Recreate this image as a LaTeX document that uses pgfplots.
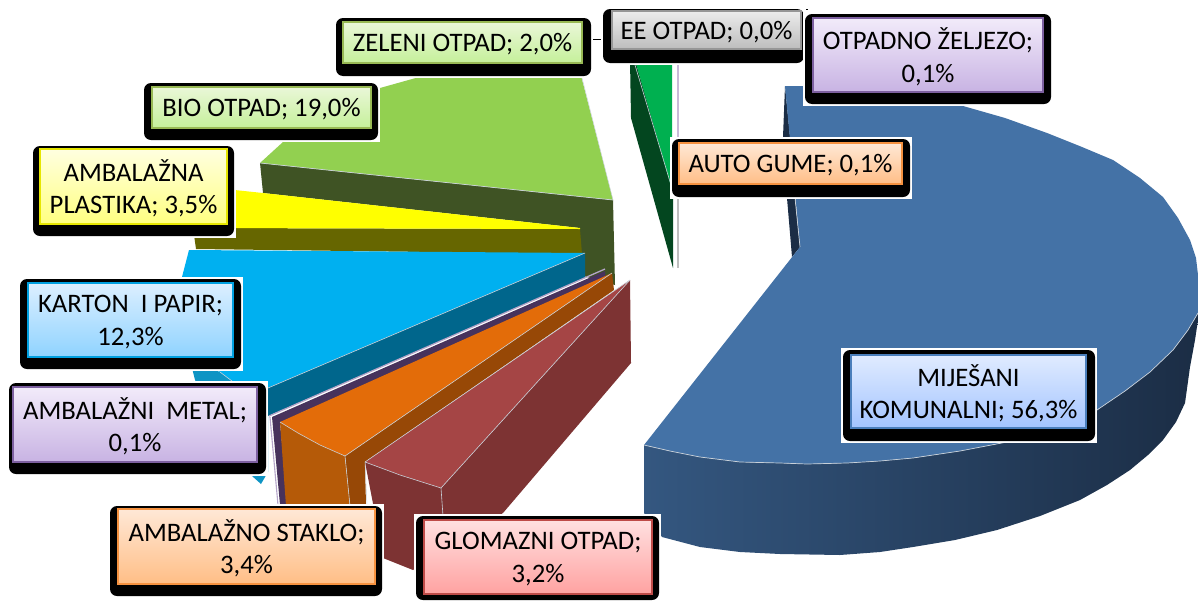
\documentclass[border=0pt]{standalone}
\usepackage{pgfplots}
\pgfplotsset{compat=1.18}
\usepackage{fontspec}
\setmainfont{Carlito}
\definecolor{bltop}{HTML}{4472A6}
\definecolor{blA}{HTML}{345780}
\definecolor{blB}{HTML}{1D3049}
\definecolor{blC}{HTML}{1B2D45}
\definecolor{edge}{HTML}{C8D0D8}
\definecolor{gtop}{HTML}{00B050}
\definecolor{gside}{HTML}{03461F}
\definecolor{biotop}{HTML}{92D050}
\definecolor{bioside}{HTML}{3F5324}
\definecolor{ytop}{HTML}{FFFF00}
\definecolor{yside}{HTML}{666600}
\definecolor{ktop}{HTML}{00B0F0}
\definecolor{kouter}{HTML}{0E94C4}
\definecolor{kside}{HTML}{00668C}
\definecolor{pside}{HTML}{47325C}
\definecolor{pedge}{HTML}{B4A4C8}
\definecolor{otop}{HTML}{E36C09}
\definecolor{oleft}{HTML}{B55A08}
\definecolor{oright}{HTML}{974806}
\definecolor{mtop}{HTML}{A54545}
\definecolor{mside}{HTML}{7D3333}
\tikzset{
  lb/.style n args={3}{top color=#1,bottom color=#2,draw=#3},
}
\definecolor{a1}{HTML}{E0EBFF}\definecolor{a2}{HTML}{A3C4FF}\definecolor{a3}{HTML}{4A7EBB}
\definecolor{b1}{HTML}{F2EBFA}\definecolor{b2}{HTML}{C8B3E3}\definecolor{b3}{HTML}{7D60A0}
\definecolor{c1}{HTML}{FFE8D6}\definecolor{c2}{HTML}{FFBE86}\definecolor{c3}{HTML}{F69240}
\definecolor{d1}{HTML}{FFE0E0}\definecolor{d2}{HTML}{FFA2A1}\definecolor{d3}{HTML}{BE4B48}
\definecolor{e1}{HTML}{EAF7D8}\definecolor{e2}{HTML}{C5F09A}\definecolor{e3}{HTML}{98B954}
\definecolor{f1}{HTML}{FFFFE0}\definecolor{f2}{HTML}{FFFF80}\definecolor{f3}{HTML}{E6E600}
\definecolor{g1}{HTML}{DCEFFF}\definecolor{g2}{HTML}{8FD3FF}\definecolor{g3}{HTML}{00A0E0}
\definecolor{h1}{HTML}{ECECEC}\definecolor{h2}{HTML}{BDBDBD}\definecolor{h3}{HTML}{969696}
\newcommand\labouter[4]{%
  \draw[white,fill=white,line width=4pt] (axis cs:#1,#2) rectangle (axis cs:#3,#4);
  \fill[black,rounded corners=7pt] (axis cs:#1,#2) rectangle (axis cs:#3,#4);}
\newcommand\labinner[6]{%
  \path[#5,line width=1.4pt] (axis cs:#1,#2) rectangle (axis cs:#3,#4);
  \path (axis cs:#1,#2) rectangle (axis cs:#3,#4) node[midway,yshift=-2pt,align=center,inner sep=0pt,text=black,font=\fontsize{26.7}{32.5}\selectfont]{#6};}
\begin{document}
\begin{tikzpicture}
\begin{axis}[
  scale only axis,width=1198pt,height=600pt,
  xmin=0,xmax=1198,ymin=0,ymax=600,y dir=reverse,
  hide axis,clip=true]
% --- MIJESANI KOMUNALNI
\addplot[draw=none,left color=blA,middle color=blB,right color=blC] coordinates {
 (644,445)(644,513)(662,537)(700,547)(740,552)(780,554)(840,555)(880,552)(913,547)(955,540)(997,530)(1040,516)(1080,500)(1107,485)(1130,470)(1148,455)(1163,440)(1176,422)(1185,403)(1190,367)(1195,340)(1198,320)(1198,313)(1188,330)(1173,350)(1150,372)(1125,391)(1097,410)(1055,428)(1007,442)(960,451)(913,458)(880,461)(847,463)(807,464)(780,463)(740,462)(700,457)(670,451)(644,445)};
\addplot[draw=none,fill=blC] coordinates {(785,86)(783,137)(787,198)(792,257)(800,247)(795,198)(790,137)(785,86)};
\addplot[draw=none,fill=bltop] coordinates {
 (785,86)(830,86)(880,92)(925,98)(963,106)(1005,118)(1047,133)(1082,147)(1113,160)(1140,178)(1163,197)(1178,218)(1190,240)(1196,258)(1198,275)(1198,313)(1188,330)(1173,350)(1150,372)(1125,391)(1097,410)(1055,428)(1007,442)(960,451)(913,458)(880,461)(847,463)(807,464)(780,463)(740,462)(700,457)(670,451)(644,445)(800,247)(785,86)};
\addplot[edge,line width=0.7pt] coordinates {(1198,313)(1188,330)(1173,350)(1150,372)(1125,391)(1097,410)(1055,428)(1007,442)(960,451)(913,458)(880,461)(847,463)(807,464)(780,463)(740,462)(700,457)(670,451)(644,445)};
\addplot[edge,line width=0.7pt] coordinates {(795,198)(800,247)};
% --- ZELENI OTPAD
\addplot[draw=none,fill=gside] coordinates {(630,60)(631,118)(673,268)(673,190)(635,60)(630,60)};
\addplot[draw=none,fill=gtop] coordinates {(635,60)(672,60)(672,190)(635,60)};
\addplot[edge,line width=0.6pt] coordinates {(635,65)(671,185)};
% --- OTPADNO ZELJEZO / AUTO GUME / EE
\addplot[draw={rgb,255:red,200;green,186;blue,216},line width=2.2pt] coordinates {(678,60)(678,140)};
\addplot[draw={rgb,255:red,190;green,190;blue,190},line width=1.6pt] coordinates {(678,140)(678,268)};
% --- BIO OTPAD
\addplot[draw=none,fill=bioside] coordinates {(260,163)(613,200)(615,285)(580,275)(580,228)(263,193)(260,163)};
\addplot[draw=none,fill=biotop] coordinates {(260,163)(283,142)(330,115)(380,88)(430,74)(500,64)(577,60)(613,200)(260,163)};
\addplot[edge,line width=0.7pt] coordinates {(260,163)(613,200)};
\addplot[edge,line width=0.5pt] coordinates {(613,200)(580,70)};
% --- AMBALAZNA PLASTIKA
\addplot[draw=none,fill=yside] coordinates {(193,228)(580,229)(582,254)(196,249)(193,228)};
\addplot[draw=none,fill=ytop] coordinates {(225,189)(263,193)(580,228)(580,229)(193,228)(225,189)};
% --- KARTON I PAPIR
\addplot[draw=none,fill=kouter] coordinates {(190,360)(220,372)(268,388)(268,472)(261,484)(252,476)(195,380)(190,360)};
\addplot[draw=none,fill=ktop] coordinates {(189,250)(585,253)(268,388)(232,381)(220,372)(195,350)(180,310)(182,277)(189,250)};
\addplot[draw=none,fill=kside] coordinates {(268,388)(585,253)(585,278)(268,416)(268,388)};
\addplot[edge,line width=0.6pt] coordinates {(268,388)(585,253)};
\addplot[edge,line width=0.6pt] coordinates {(220,372)(232,381)};
% --- AMBALAZNI METAL
\addplot[draw=none,fill=pside] coordinates {(272,417)(605,271)(606,283)(280,423)(288,505)(280,505)(272,417)};
\addplot[pedge,line width=1.3pt] coordinates {(269,416)(605,269)};
\addplot[pedge,line width=1.1pt] coordinates {(270,417)(278,505)};
% --- AMBALAZNO STAKLO
\addplot[draw=none,fill=oright] coordinates {(345,456)(612,273)(614,290)(365,462)(366,506)(350,506)(345,456)};
\addplot[draw=none,fill=oleft] coordinates {(280,422)(345,456)(350,506)(286,506)(280,422)};
\addplot[draw=none,fill=otop] coordinates {(280,422)(612,273)(345,456)(320,445)(298,433)(280,422)};
\addplot[edge,line width=0.6pt] coordinates {(280,422)(298,433)(320,445)(345,456)(612,273)};
\addplot[edge,line width=0.6pt] coordinates {(345,456)(350,506)};
% --- GLOMAZNI OTPAD
\addplot[draw=none,fill=mside] coordinates {(365,462)(441,488)(630,280)(631,363)(503,513)(413,570)(383,558)(380,540)(365,462)};
\addplot[draw=none,fill=mtop] coordinates {(365,462)(630,280)(441,488)(400,475)(365,462)};
\addplot[edge,line width=0.6pt] coordinates {(365,462)(400,475)(441,488)(630,280)};
\addplot[edge,line width=0.6pt] coordinates {(365,462)(630,280)};
\addplot[edge,line width=0.6pt] coordinates {(441,488)(443,516)};
\addplot[edge,line width=0.5pt] coordinates {(365,462)(367,506)};
% --- connector lines
\addplot[black,line width=1pt] coordinates {(593,39.5)(601,39.5)};
\addplot[black,line width=1pt] coordinates {(800,9.5)(808,9.5)};
% --- labels
\labouter{603}{9}{804}{63}
\labinner{612}{11}{801}{49}{lb={h1}{h2}{h3}}{EE OTPAD; 0,0\%}
\labouter{336}{18}{591}{76}
\labinner{343}{22}{582}{63}{lb={e1}{e2}{e3}}{ZELENI OTPAD; 2,0\%}
\labouter{805}{14}{1051}{104}
\labinner{813}{18}{1043}{92}{lb={b1}{b2}{b3}}{OTPADNO ŽELJEZO;\\0,1\%}
\labouter{672}{139}{910}{197}
\labinner{679}{143}{902}{184}{lb={c1}{c2}{c3}}{AUTO GUME; 0,1\%}
\labouter{144}{83}{378}{140}
\labinner{152}{87}{371}{128}{lb={e1}{e2}{e3}}{BIO OTPAD; 19,0\%}
\labouter{33}{146}{234}{236}
\labinner{40}{149}{227}{224}{lb={f1}{f2}{f3}}{AMBALAŽNA\\PLASTIKA; 3,5\%}
\labouter{20}{279}{241}{369}
\labinner{28}{283}{233}{357}{lb={g1}{g2}{g3}}{KARTON\ \ I PAPIR;\\12,3\%}
\labouter{9}{383}{266}{474}
\labinner{13}{387}{257}{462}{lb={b1}{b2}{b3}}{AMBALAŽNI\ \ METAL;\\0,1\%}
\labouter{110}{506}{382}{596}
\labinner{118}{509}{375}{584}{lb={c1}{c2}{c3}}{AMBALAŽNO STAKLO;\\3,4\%}
\labouter{416}{516}{659}{600}
\labinner{424}{520}{652}{594}{lb={d1}{d2}{d3}}{GLOMAZNI OTPAD;\\3,2\%}
\labouter{843}{350}{1095}{441}
\labinner{851}{355}{1086}{428}{lb={a1}{a2}{a3}}{MIJEŠANI\\KOMUNALNI; 56,3\%}
\path (axis cs:0,0) rectangle (axis cs:1198,600);
\end{axis}
\end{tikzpicture}
\end{document}
